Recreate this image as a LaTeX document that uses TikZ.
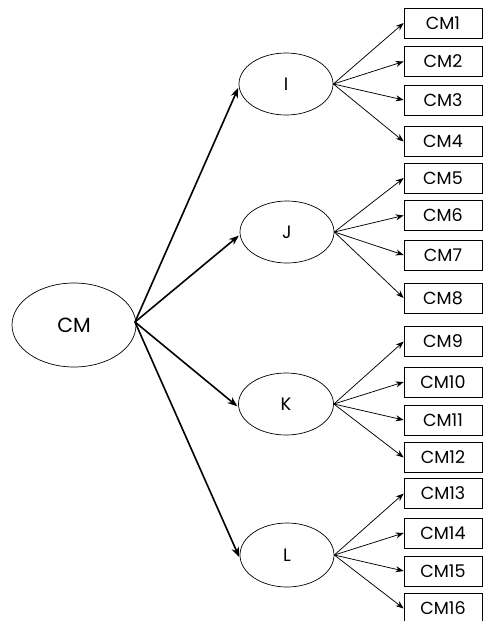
\documentclass[tikz,border=0pt]{standalone}
\usepackage{fontspec}
\setmainfont{Poppins}
\usetikzlibrary{shapes.geometric,arrows.meta}
\tikzset{
  oval/.style={draw, ellipse, line width=0.7pt, inner sep=0pt},
  lettertext/.style={font=\fontsize{18}{20}\selectfont},
  cmbox/.style={draw, rectangle, line width=0.6pt, minimum width=78pt, minimum height=30pt, inner sep=0pt, font=\fontsize{17.5}{19}\selectfont},
  bigarrow/.style={line width=1.6pt, -{Stealth[length=10pt,width=7.5pt]}},
  smallarrow/.style={line width=0.75pt, -{Stealth[length=8pt,width=6pt]}}
}
\begin{document}
\begin{tikzpicture}[x=1pt,y=-1pt]
\useasboundingbox (0,0) rectangle (484,621);
\clip (0,0) rectangle (484,621);
\node[oval, minimum width=124pt, minimum height=84pt, font=\fontsize{20.5}{22}\selectfont] (CM) at (74,325) {CM};
\coordinate (cms) at (135,322);
\node[oval, lettertext, minimum width=94pt, minimum height=62pt] (I) at (286,84) {I};
\node[oval, lettertext, minimum width=94pt, minimum height=62pt] (J) at (287,232) {J};
\node[oval, lettertext, minimum width=95pt, minimum height=62pt] (K) at (286,404) {K};
\node[oval, lettertext, minimum width=94pt, minimum height=64pt] (L) at (287,555) {L};
\node[cmbox] (c1) at (443,23) {CM1};
\node[cmbox] (c2) at (443,61.5) {CM2};
\node[cmbox] (c3) at (443,100) {CM3};
\node[cmbox] (c4) at (443,141.5) {CM4};
\node[cmbox] (c5) at (443,178) {CM5};
\node[cmbox] (c6) at (443,215.5) {CM6};
\node[cmbox] (c7) at (443,255) {CM7};
\node[cmbox] (c8) at (443,298) {CM8};
\node[cmbox] (c9) at (443,341.5) {CM9};
\node[cmbox] (c10) at (443,382) {CM10};
\node[cmbox] (c11) at (443,420) {CM11};
\node[cmbox] (c12) at (443,457.5) {CM12};
\node[cmbox] (c13) at (443,493.5) {CM13};
\node[cmbox] (c14) at (443,533) {CM14};
\node[cmbox] (c15) at (443,571) {CM15};
\node[cmbox] (c16) at (443,608.5) {CM16};
\foreach \t in {I,J,K,L} \draw[bigarrow, shorten >=1pt] (cms) -- ([yshift=-3pt]\t.west);
\foreach \p/\a/\b/\c/\d in {I/c1/c2/c3/c4, J/c5/c6/c7/c8, K/c9/c10/c11/c12, L/c13/c14/c15/c16}{
  \foreach \q in {\a,\b,\c,\d} \draw[smallarrow] (\p.east) -- (\q.west);
}
\end{tikzpicture}
\end{document}
